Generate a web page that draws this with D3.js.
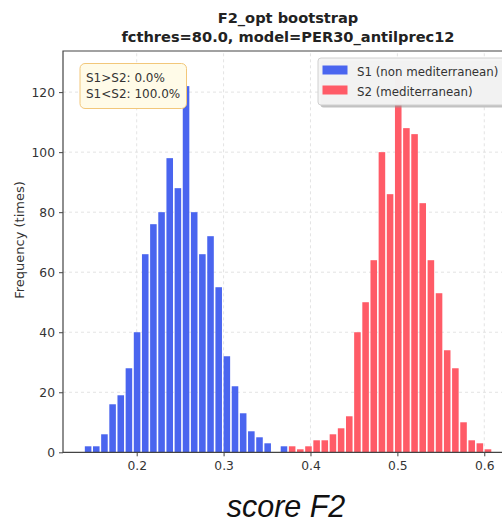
<!DOCTYPE html>
<html>
<head>
<meta charset="utf-8">
<script src="https://cdn.jsdelivr.net/npm/d3@7"></script>
<style>
  body { margin: 0; background: #fff; }
  svg { display: block; font-family: "DejaVu Sans", sans-serif; }
</style>
</head>
<body>
<script>
// histogram bins, shared by both samples (50 bins over the pooled range)
var binLo = 0.1394;
var binHi = 0.609;
var nBins = 50;

// bootstrap counts per bin
var s1Counts = [2, 2, 6, 16, 19, 28, 40, 66, 76, 80, 98, 88, 122, 80, 66, 72, 55, 32, 22, 13,
                7, 5, 3, 0, 2, 0, 0, 0, 0, 0, 0, 0, 0, 0, 0, 0, 0, 0, 0, 0,
                0, 0, 0, 0, 0, 0, 0, 0, 0, 0];
var s2Counts = [0, 0, 0, 0, 0, 0, 0, 0, 0, 0, 0, 0, 0, 0, 0, 0, 0, 0, 0, 0,
                0, 0, 0, 0, 0, 2, 1, 2, 4, 4, 6, 8, 12, 40, 50, 64, 100, 86, 127, 108,
                106, 83, 64, 53, 34, 28, 10, 4, 3, 1];

var seriesNames = ["S1 (non mediterranean)", "S2 (mediterranean)"];
var seriesColors = ["#4a65ef", "#ff5b67"];
var infoLines = ["S1>S2: 0.0%", "S1<S2: 100.0%"];

var xTicks = [0.2, 0.3, 0.4, 0.5, 0.6];
var yTicks = [0, 20, 40, 60, 80, 100, 120];

var width  = 502;
var height = 524;

var x = d3.scaleLinear().domain([0.1152, 0.625]).range([63, 506]);
var y = d3.scaleLinear().domain([0, 133.7]).range([452.3, 51]);

var edges = d3.range(nBins + 1).map(function(i) { return binLo + (binHi - binLo) * i / nBins; });

var svg = d3.select("body").append("svg")
            .attr("width", width)
            .attr("height", height);

// dashed grid
var grid = svg.append("g");
grid.selectAll("line.gx").data(xTicks).enter().append("line")
    .attr("x1", function(d) { return x(d); }).attr("x2", function(d) { return x(d); })
    .attr("y1", y.range()[0]).attr("y2", y.range()[1])
    .style("stroke", "#dcdcdc").style("stroke-dasharray", "3,3").style("stroke-width", 0.8);
grid.selectAll("line.gy").data(yTicks.slice(1)).enter().append("line")
    .attr("x1", x.range()[0]).attr("x2", x.range()[1])
    .attr("y1", function(d) { return y(d); }).attr("y2", function(d) { return y(d); })
    .style("stroke", "#dcdcdc").style("stroke-dasharray", "3,3").style("stroke-width", 0.8);

// bars
[s1Counts, s2Counts].forEach(function(counts, k) {
  svg.append("g").selectAll("rect")
     .data(counts.map(function(c, i) { return {x0: edges[i], x1: edges[i + 1], c: c}; })
                 .filter(function(d) { return d.c > 0; }))
     .enter().append("rect")
       .attr("x", function(d) { return x(d.x0) + 0.8; })
       .attr("width", function(d) { return x(d.x1) - x(d.x0) - 1.6; })
       .attr("y", function(d) { return y(d.c); })
       .attr("height", function(d) { return y(0) - y(d.c); })
       .style("fill", seriesColors[k]);
});

// axes
var xAxis = svg.append("g")
    .attr("transform", "translate(0," + y(0) + ")")
    .call(d3.axisBottom(x).tickValues(xTicks).tickSize(4).tickPadding(5).tickFormat(d3.format(".1f")));
var yAxis = svg.append("g")
    .attr("transform", "translate(" + x.range()[0] + ",0)")
    .call(d3.axisLeft(y).tickValues(yTicks).tickSize(4).tickPadding(4));
[xAxis, yAxis].forEach(function(a) {
  a.select(".domain").remove();
  a.selectAll("line").style("stroke", "#444");
  a.selectAll("text").style("font-size", "12.3px").style("fill", "#333")
    .style("font-family", "DejaVu Sans, sans-serif");
});

// spines (left, bottom, top; right one falls outside the picture)
svg.append("path")
   .attr("d", "M" + x.range()[1] + "," + y.range()[1] + "H" + x.range()[0] +
              "V" + y.range()[0] + "H" + x.range()[1])
   .style("fill", "none").style("stroke", "#444").style("stroke-width", 1.2);

// info box
var info = svg.append("g");
info.append("rect")
    .attr("x", 80).attr("y", 63.5).attr("width", 106.5).attr("height", 45)
    .attr("rx", 5)
    .style("fill", "#fffbe8").style("stroke", "#f2c77a").style("stroke-width", 1);
info.selectAll("text").data(infoLines).enter().append("text")
    .attr("x", 86).attr("y", function(d, i) { return 81.5 + i * 16.5; })
    .style("font-size", "12px").style("fill", "#333")
    .text(function(d) { return d; });

// legend
var leg = svg.append("g");
leg.append("rect")
   .attr("x", 320.5).attr("y", 60.5).attr("width", 200).attr("height", 47)
   .attr("rx", 3).style("fill", "#999").style("opacity", 0.6);
leg.append("rect")
   .attr("x", 318).attr("y", 58).attr("width", 200).attr("height", 47)
   .attr("rx", 3).style("fill", "#f4f4f4").style("stroke", "#d0d0d0").style("fill-opacity", 0.95);
seriesNames.forEach(function(name, i) {
  leg.append("rect")
     .attr("x", 322.5).attr("y", 65.5 + i * 20).attr("width", 25).attr("height", 9)
     .style("fill", seriesColors[i]);
  leg.append("text")
     .attr("x", 357).attr("y", 75.5 + i * 20)
     .style("font-size", "11.8px").style("fill", "#333")
     .text(name);
});

// titles
svg.append("text")
   .attr("x", 288).attr("y", 23)
   .attr("text-anchor", "middle")
   .style("font-size", "14.6px").style("font-weight", "bold").style("fill", "#222")
   .text("F2_opt bootstrap");
svg.append("text")
   .attr("x", 288).attr("y", 41.5)
   .attr("text-anchor", "middle")
   .style("font-size", "14.6px").style("font-weight", "bold").style("fill", "#222")
   .text("fcthres=80.0, model=PER30_antilprec12");

svg.append("text")
   .attr("transform", "translate(24,240) rotate(-90)")
   .attr("text-anchor", "middle")
   .style("font-size", "13px").style("fill", "#333")
   .text("Frequency (times)");

svg.append("text")
   .attr("x", 286).attr("y", 517)
   .attr("text-anchor", "middle")
   .style("font-family", "Liberation Sans, Arial, sans-serif")
   .style("font-size", "30.5px").style("font-style", "italic").style("fill", "#111")
   .text("score F2");
</script>
</body>
</html>
